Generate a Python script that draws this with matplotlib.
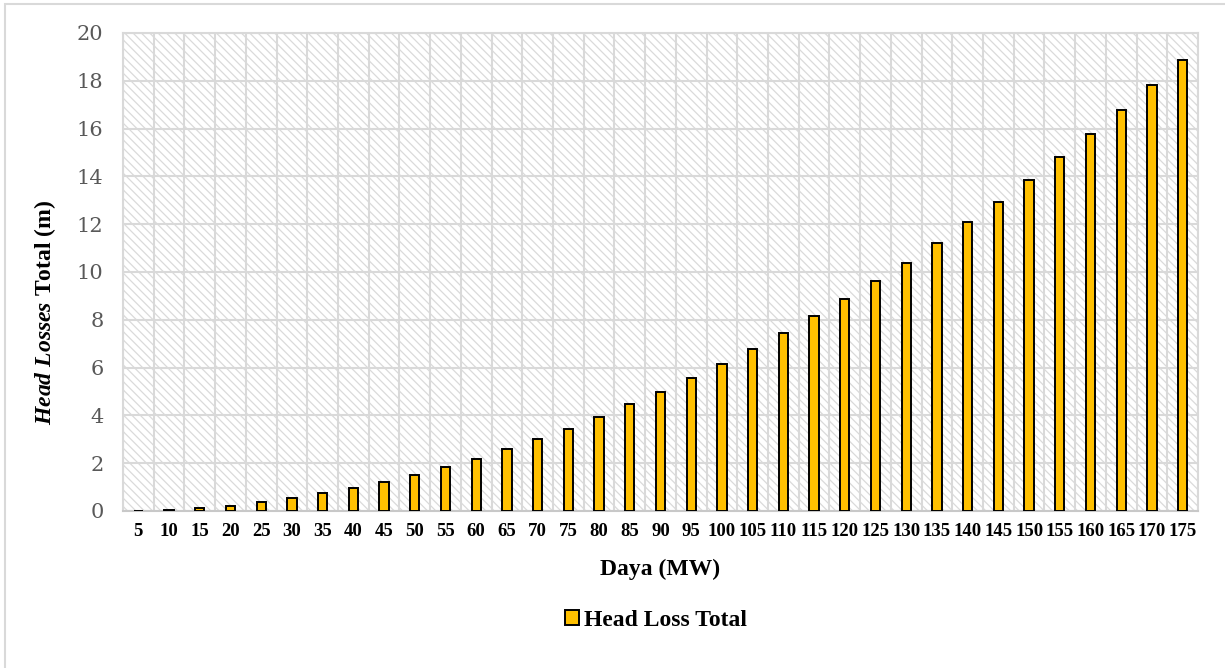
import matplotlib
matplotlib.use("Agg")
import matplotlib.pyplot as plt
import numpy as np
from matplotlib.patches import Rectangle

# Data
daya = [5, 10, 15, 20, 25, 30, 35, 40, 45, 50, 55, 60, 65, 70, 75, 80, 85, 90,
        95, 100, 105, 110, 115, 120, 125, 130, 135, 140, 145, 150, 155, 160,
        165, 170, 175]
head_loss = [0.01, 0.06, 0.13, 0.23, 0.38, 0.55, 0.75, 0.98, 1.22, 1.51, 1.83,
             2.19, 2.58, 3.00, 3.45, 3.94, 4.46, 4.99, 5.56, 6.14, 6.79, 7.44,
             8.15, 8.87, 9.62, 10.39, 11.23, 12.09, 12.94, 13.86, 14.81, 15.78,
             16.79, 17.82, 18.88]
y_ticks = [0, 2, 4, 6, 8, 10, 12, 14, 16, 18, 20]

plt.rcParams['hatch.linewidth'] = 0.9
plt.rcParams['mathtext.fontset'] = 'custom'
plt.rcParams['mathtext.rm'] = 'Liberation Serif:bold'
plt.rcParams['mathtext.it'] = 'Liberation Serif:italic:bold'

fig = plt.figure(figsize=(12.25, 6.68), dpi=100)
ax = fig.add_axes([123/1225, 1 - 511/668, (1198-123)/1225, (511-33)/668])

x = np.arange(len(daya))

# hatched background
ax.add_patch(Rectangle((0, 0), 1, 1, transform=ax.transAxes, facecolor='white',
                       edgecolor='#DADADA', hatch='\\\\\\\\', linewidth=0, zorder=0.5))

ax.bar(x, head_loss, width=0.3, color='#FFC000', edgecolor='black',
       linewidth=1.4, zorder=3, label='Head Loss Total')

ax.set_xlim(-0.5, len(daya) - 0.5)
ax.set_ylim(0, 20)
ax.set_yticks(y_ticks)
ax.set_yticklabels([str(v) for v in y_ticks], fontfamily='DejaVu Serif',
                   fontsize=15, color='#595959')
ax.set_xticks(x)
ax.set_xticklabels([str(d) for d in daya], fontfamily='Liberation Serif',
                   fontweight='bold', fontsize=13.5)
ax.set_xticks(np.arange(-0.5, len(daya), 1), minor=True)
ax.tick_params(axis='both', which='both', length=0)
ax.tick_params(axis='x', pad=9)
ax.tick_params(axis='y', pad=14)

ax.grid(axis='y', which='major', color='#D9D9D9', linewidth=1.5, zorder=1)
ax.grid(axis='x', which='minor', color='#D9D9D9', linewidth=1.5, zorder=1)
ax.set_axisbelow(True)
for s in ax.spines.values():
    s.set_color('#D9D9D9')
    s.set_linewidth(1.5)
ax.spines['bottom'].set_color('#C8C8C8')

ax.set_xlabel('Daya (MW)', fontfamily='Liberation Serif', fontweight='bold',
              fontsize=17, labelpad=13)
fig.text(45/1225, 1 - 312/668, r'$\mathit{Head\ Losses}$ Total (m)',
         rotation=90, ha='center', va='center', fontfamily='Liberation Serif',
         fontweight='bold', fontsize=17)

leg = fig.legend(loc='center', bbox_to_anchor=(656/1225, 1 - 620/668),
                 frameon=False, prop={'family': 'Liberation Serif',
                                      'weight': 'bold', 'size': 17},
                 handlelength=0.6, handleheight=0.6, handletextpad=0.2)

# outer chart border
fig.patches.append(Rectangle((5/1225, -0.05), 1.0, 1 - 4/668 + 0.05,
                             transform=fig.transFigure, fill=False,
                             edgecolor='#D9D9D9', linewidth=1.5))

fig.savefig('out.png', dpi=100)
